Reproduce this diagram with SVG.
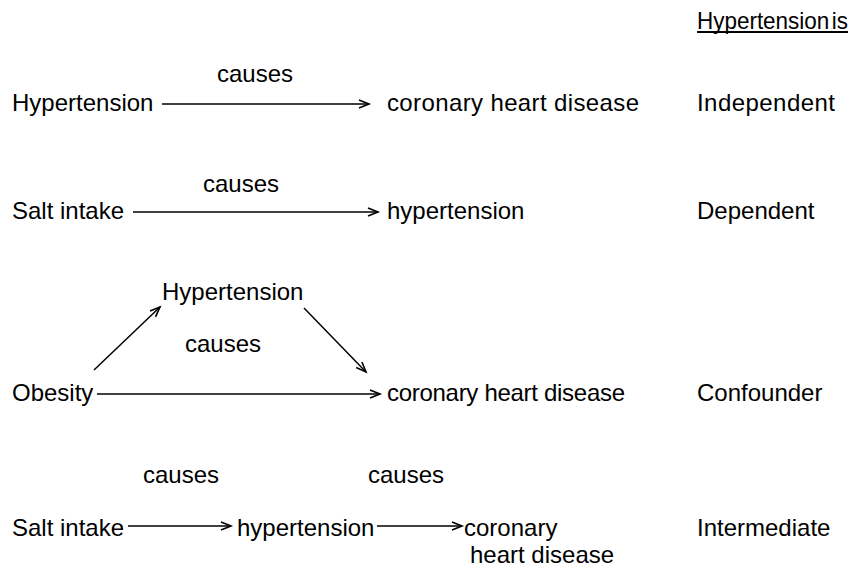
<svg xmlns="http://www.w3.org/2000/svg" width="857" height="568" viewBox="0 0 857 568">
<style>
text{font-family:"Liberation Sans",Arial,sans-serif;font-size:24px;fill:#000}
.c{stroke:#000;stroke-width:1.5;fill:none}
</style>
<defs>
<marker id="ah" markerUnits="userSpaceOnUse" markerWidth="14" markerHeight="12" refX="11" refY="5" orient="auto" viewBox="0 0 14 12">
<path d="M1,1 L11,5 L1,9" fill="none" stroke="#000" stroke-width="1.6"/>
</marker>
</defs>
<rect width="857" height="568" fill="#fff"/>
<g id="header"><text x="697" y="29" textLength="151" lengthAdjust="spacingAndGlyphs" style="word-spacing:-4px">Hypertension is</text><line x1="697" y1="32" x2="848" y2="32" stroke="#000" stroke-width="1.8"/></g>

<g id="r1-hyp"><text x="12" y="111">Hypertension</text></g>
<g id="r1-chd"><text x="387" y="111" textLength="252" lengthAdjust="spacing">coronary heart disease</text></g>
<g id="r1-label"><text x="697" y="111" textLength="138" lengthAdjust="spacing">Independent</text></g>

<g id="r2-salt"><text x="12" y="219">Salt intake</text></g>
<g id="r2-hyp"><text x="387" y="219">hypertension</text></g>
<g id="r2-label"><text x="697" y="219">Dependent</text></g>

<g id="r3-hyp"><text x="162" y="300">Hypertension</text></g>
<g id="r3-obesity"><text x="12" y="401">Obesity</text></g>
<g id="r3-chd"><text x="387" y="401" textLength="238" lengthAdjust="spacing">coronary heart disease</text></g>
<g id="r3-label"><text x="697" y="401">Confounder</text></g>

<g id="r4-salt"><text x="12" y="536">Salt intake</text></g>
<g id="r4-hyp"><text x="237" y="536">hypertension</text></g>
<g id="r4-chd"><text x="464" y="536">coronary</text><text x="470" y="563">heart disease</text></g>
<g id="r4-label"><text x="697" y="536">Intermediate</text></g>

<g id="connectors">
<line class="c" x1="162" y1="104" x2="369" y2="104" marker-end="url(#ah)"/>
<text x="217" y="82">causes</text>
<line class="c" x1="133" y1="212" x2="378" y2="212" marker-end="url(#ah)"/>
<text x="203" y="192">causes</text>
<line class="c" x1="94" y1="370" x2="160" y2="307" marker-end="url(#ah)"/>
<line class="c" x1="304" y1="308" x2="366" y2="372" marker-end="url(#ah)"/>
<line class="c" x1="97" y1="394" x2="380" y2="394" marker-end="url(#ah)"/>
<text x="185" y="352">causes</text>
<line class="c" x1="128" y1="526" x2="231" y2="526" marker-end="url(#ah)"/>
<line class="c" x1="377" y1="526" x2="462" y2="526" marker-end="url(#ah)"/>
<text x="143" y="483">causes</text>
<text x="368" y="483">causes</text>
</g>
</svg>
